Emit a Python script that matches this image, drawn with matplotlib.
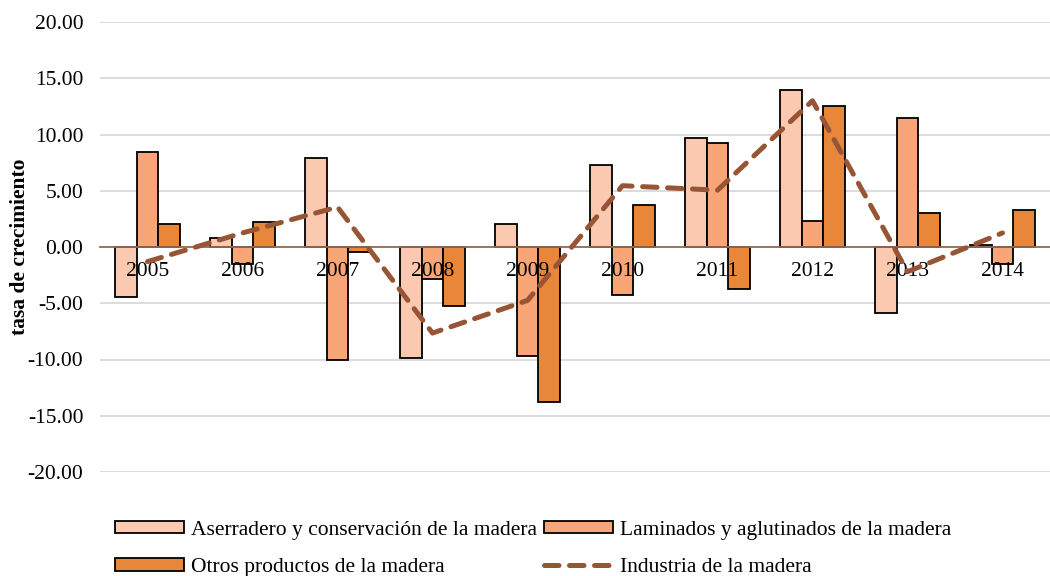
import matplotlib
matplotlib.use("Agg")
import matplotlib.pyplot as plt
import numpy as np

years = ["2005", "2006", "2007", "2008", "2009", "2010", "2011", "2012", "2013", "2014"]
aserradero = [-4.45, 0.80, 7.95, -9.90, 2.05, 7.30, 9.65, 13.95, -5.90, 0.20]
laminados = [8.45, -1.50, -10.05, -2.85, -9.70, -4.25, 9.25, 2.35, 11.50, -1.55]
otros = [2.05, 2.25, -0.45, -5.25, -13.75, 3.75, -3.70, 12.55, 3.00, 3.30]
industria = [-1.30, 1.25, 3.55, -7.65, -4.75, 5.45, 5.05, 13.00, -2.20, 1.25]

labels = ["Aserradero y conservación de la madera",
          "Laminados y aglutinados de la madera",
          "Otros productos de la madera",
          "Industria de la madera"]
colors = ["#FBC8B0", "#F8A577", "#E8873A"]
line_color = "#985535"
fs = 15.5

plt.rcParams['font.family'] = ['Liberation Serif', 'DejaVu Serif']

fig = plt.figure(figsize=(10.5, 5.76), dpi=100)
ax = fig.add_axes([100/1050, 1 - 472/576, 950/1050, 450/576])

x = np.arange(len(years))
w = 0.23
bars = []
for i, vals in enumerate([aserradero, laminados, otros]):
	b = ax.bar(x + (i - 1) * w, vals, w, color=colors[i], edgecolor='black',
		linewidth=1.3, label=labels[i], zorder=3)
	bars.append(b)
line, = ax.plot(x, industria, color=line_color, linewidth=3.6, dashes=(2.9, 2.1),
	dash_capstyle='round', label=labels[3], zorder=6)

ax.set_xlim(-0.5, len(years) - 0.5)
ax.set_ylim(-20, 20)
ticks = np.arange(-20, 21, 5)
ax.set_yticks(ticks)
ax.set_yticklabels(["%.2f" % v for v in ticks], fontsize=fs)
ax.tick_params(axis='y', length=0, pad=12)
ax.grid(axis='y', color='#D9D9D9', linewidth=1.3, zorder=0)
ax.set_axisbelow(True)

for s in ['top', 'right', 'left']:
	ax.spines[s].set_visible(False)
ax.spines['bottom'].set_position(('data', 0))
ax.spines['bottom'].set_color('#9C6A50')
ax.spines['bottom'].set_linewidth(1.3)
ax.spines['bottom'].set_zorder(3.5)
ax.set_xticks([])

# category labels sit just under the zero line, on top of the bars
for xi, yr in zip(x, years):
	ax.annotate(yr, (xi, 0), xytext=(0, -18), textcoords='offset points',
		ha='center', va='center', fontsize=fs, zorder=5)

ax.set_ylabel("tasa de crecimiento", fontsize=fs, fontweight='bold')
ax.yaxis.set_label_coords(-0.074, 0.5)

handles = [bars[0], bars[2], bars[1], line]
leg_labels = [labels[0], labels[2], labels[1], labels[3]]
ax.legend(handles, leg_labels, loc='upper left', bbox_to_anchor=(0.0, -0.075),
	ncol=2, frameon=False, fontsize=fs, handlelength=3.2, handleheight=0.5,
	columnspacing=0.3, labelspacing=0.85, handletextpad=0.35, borderaxespad=0.3)

fig.savefig("out.png", dpi=100)
